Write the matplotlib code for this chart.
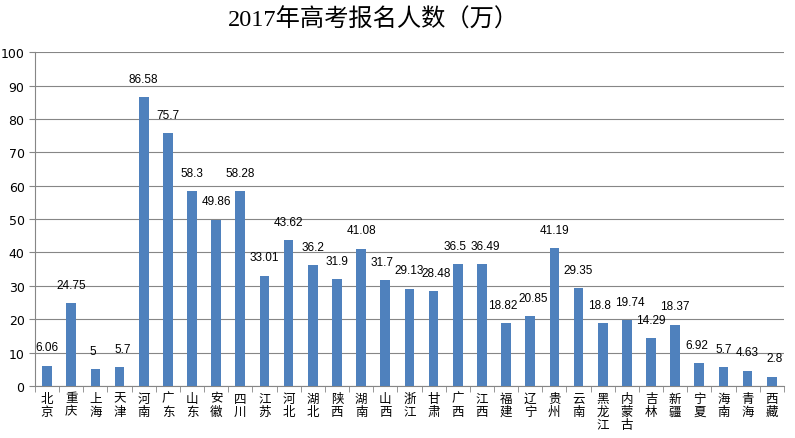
import numpy as np
import matplotlib.pyplot as plt

plt.rcParams['font.family'] = ['Noto Sans CJK SC', 'DejaVu Sans']

provinces = ['北京', '重庆', '上海', '天津', '河南', '广东', '山东', '安徽', '四川', '江苏',
             '河北', '湖北', '陕西', '湖南', '山西', '浙江', '甘肃', '广西', '江西', '福建',
             '辽宁', '贵州', '云南', '黑龙江', '内蒙古', '吉林', '新疆', '宁夏', '海南', '青海', '西藏']
values = [6.06, 24.75, 5, 5.7, 86.58, 75.7, 58.3, 49.86, 58.28, 33.01,
          43.62, 36.2, 31.9, 41.08, 31.7, 29.13, 28.48, 36.5, 36.49, 18.82,
          20.85, 41.19, 29.35, 18.8, 19.74, 14.29, 18.37, 6.92, 5.7, 4.63, 2.8]

fig = plt.figure(figsize=(7.95, 4.39), dpi=100)
ax = fig.add_axes([0.044, 0.1185, 0.942, 0.7605])

x = np.arange(len(provinces))
ax.bar(x, values, width=0.4, color='#4F81BD', zorder=3)

# push neighbouring labels apart when they sit at nearly the same height
shift = np.zeros(len(values))
for i in range(1, len(values)):
    if abs(values[i] - values[i - 1]) < 3:
        shift[i - 1] -= 0.12
        shift[i] += 0.12
for xi, v, dx in zip(x, values, shift):
    ax.text(xi + dx, v + 5.5, f'{v:g}', ha='center', va='center', fontsize=8.5,
            family='Liberation Sans')

ax.set_xlim(-0.5, len(provinces) - 0.5)
ax.set_ylim(0, 100)
ax.set_yticks(range(0, 101, 10))
ax.yaxis.grid(True, color='#868686', linewidth=0.8, zorder=0)
ax.tick_params(axis='y', length=4, labelsize=9, color='#868686')
for lbl in ax.get_yticklabels():
    lbl.set_family('DejaVu Sans')

ax.set_xticks(x)
ax.set_xticklabels(['\n'.join(p) for p in provinces], fontsize=9, linespacing=1.0)
ax.tick_params(axis='x', length=0, pad=4)
ax.set_xticks(np.arange(-0.5, len(provinces), 1), minor=True)
ax.tick_params(axis='x', which='minor', length=4, color='#868686')

for s in ['top', 'right']:
    ax.spines[s].set_visible(False)
ax.spines['left'].set_color('#868686')
ax.spines['bottom'].set_color('#868686')

fig.text(0.47, 0.955, '2017年高考报名人数（万）', ha='center', va='center', fontsize=17.5,
         family=['Liberation Serif', 'Noto Sans CJK SC'])

plt.savefig('out.png', dpi=100)
